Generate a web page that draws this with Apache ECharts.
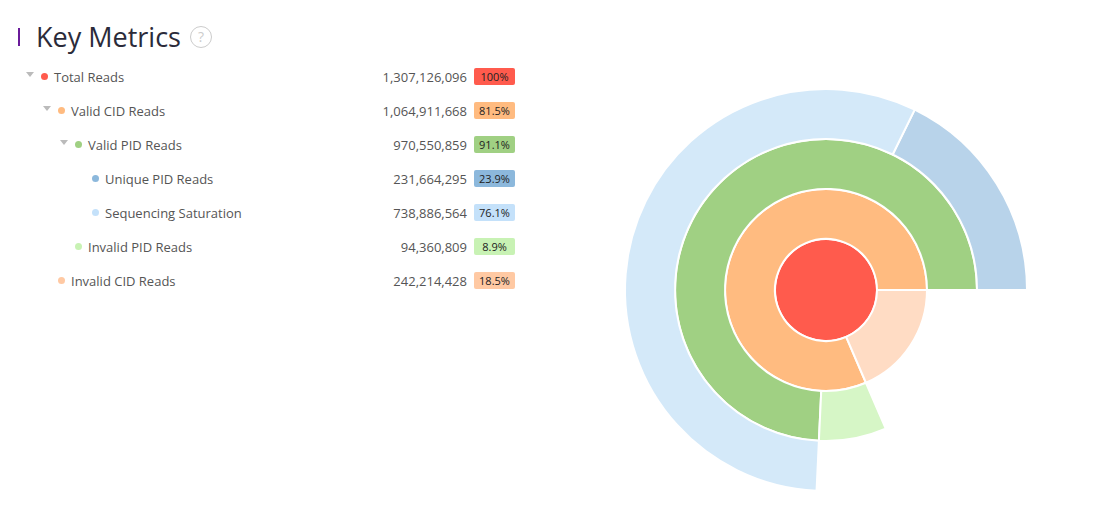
<!DOCTYPE html>
<html><head><meta charset="utf-8">
<script src="https://cdn.jsdelivr.net/npm/echarts@6/dist/echarts.min.js"></script>
<style>
  body { margin:0; width:1116px; height:526px; background:#fff; font-family:"Open Sans","Noto Sans",sans-serif; overflow:hidden; }
  .title { position:absolute; left:18px; top:18px; font-size:27px; color:#2b2b3a; display:flex; align-items:center; }
  .title .bar { width:2px; height:18px; background:#6a1b9a; margin-right:16px; }
  .title .q { width:20px; height:20px; border:1.5px solid #ccc; border-radius:50%; color:#ccc; font-size:14px;
              display:inline-flex; align-items:center; justify-content:center; margin-left:9px; }
  #list { position:absolute; left:0; top:60px; width:530px; }
  .row { position:relative; height:34px; font-size:13px; color:#555; }
  .row .arr { position:absolute; top:12px; width:0; height:0; border-left:4px solid transparent; border-right:4px solid transparent; border-top:5px solid #bbb; }
  .row .dot { position:absolute; top:13px; width:7px; height:7px; border-radius:50%; }
  .row .name { position:absolute; top:8px; }
  .row .num { position:absolute; right:63px; top:8px; }
  .row .pct { position:absolute; left:474px; top:8px; width:41px; height:17px; line-height:17px; text-align:center; font-size:11px; color:#222; border-radius:2px; }
  #chart { position:absolute; left:530px; top:0; width:586px; height:526px; }
</style></head><body>
<div class="title"><span class="bar"></span>Key Metrics<span class="q">?</span></div>
<div id="list"></div>
<div id="chart"></div>
<script>
// tree order: name, parent, value, percent label, colour, depth
const names   = ["Total Reads", "Valid CID Reads", "Valid PID Reads", "Unique PID Reads", "Sequencing Saturation", "Invalid PID Reads", "Invalid CID Reads"];
const parents = [null, 0, 1, 2, 2, 1, 0];
const values  = [1307126096, 1064911668, 970550859, 231664295, 738886564, 94360809, 242214428];
const pcts    = ["100%", "81.5%", "91.1%", "23.9%", "76.1%", "8.9%", "18.5%"];
const colors  = ["#ff5b4d", "#ffbb80", "#a0d083", "#8cb8dc", "#c4e1fa", "#c8f2b4", "#ffc9a3"];
const fills   = ["#ff5b4d", "#ffbb80", "#a0d083", "#b8d3ea", "#d4e9f9", "#d6f6c6", "#ffdcc4"];
const hasKids = [true, true, true, false, false, false, false];

const depth = (i) => parents[i] === null ? 0 : depth(parents[i]) + 1;

// left tree list
const list = document.getElementById("list");
names.forEach((n, i) => {
  const d = depth(i), x = 26 + d * 17;
  const r = document.createElement("div");
  r.className = "row";
  r.innerHTML =
    (hasKids[i] ? `<span class="arr" style="left:${x}px"></span>` : "") +
    `<span class="dot" style="left:${x + 15}px;background:${colors[i]}"></span>` +
    `<span class="name" style="left:${x + 28}px">${n}</span>` +
    `<span class="num">${values[i].toLocaleString("en-US")}</span>` +
    `<span class="pct" style="background:${colors[i]}">${pcts[i]}</span>`;
  list.appendChild(r);
});

// sunburst tree from the arrays
function node(i) {
  const kids = names.map((_, k) => k).filter((k) => parents[k] === i);
  const o = { name: names[i], value: values[i], itemStyle: { color: fills[i] } };
  if (kids.length) o.children = kids.map(node);
  return o;
}

const chart = echarts.init(document.getElementById("chart"));
chart.setOption({
  series: [{
    type: "sunburst",
    center: [296, 290],
    startAngle: 0,
    clockwise: false,
    sort: null,
    nodeClick: false,
    data: [node(0)],
    label: { show: false },
    itemStyle: { borderColor: "#fff", borderWidth: 2 },
    levels: [
      {},
      { r0: 0, r: 51 },
      { r0: 51, r: 101 },
      { r0: 101, r: 151 },
      { r0: 151, r: 201 },
    ],
  }],
});
</script>
</body></html>
